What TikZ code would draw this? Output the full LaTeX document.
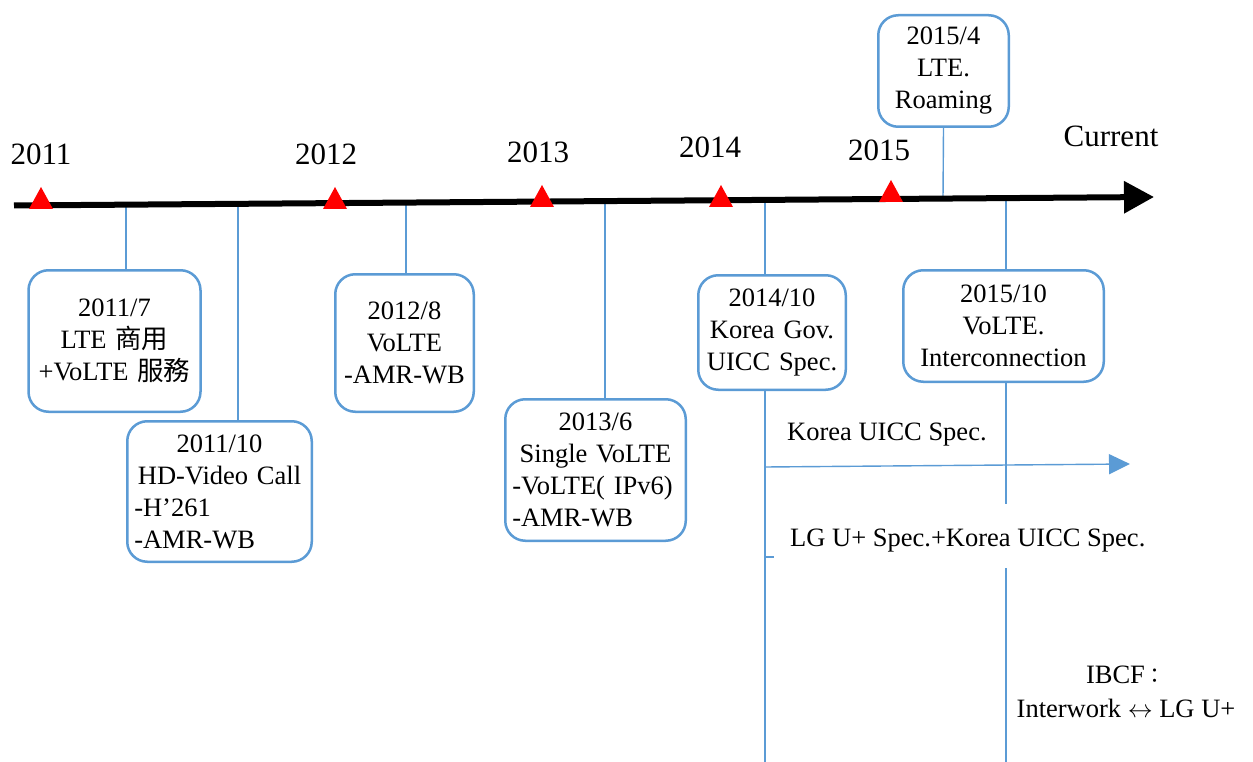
\documentclass[tikz,border=0pt]{standalone}
\usepackage{fontspec}
\setmainfont{Liberation Serif}
\newfontfamily\cjkfont{Noto Sans CJK TC}
\usetikzlibrary{arrows.meta,calc}
\definecolor{lineblue}{RGB}{91,155,213}
\definecolor{markred}{RGB}{255,0,0}

% a line pushed to the left edge of a centred box
\newcommand\flushrow[1]{#1\hfill\mbox{}}

\tikzset{
  evbox/.style={draw=lineblue, line width=2.5pt, rounded corners=20pt, fill=white,
    align=center, inner xsep=7pt, inner ysep=0pt,
    font=\fontsize{26.5}{32}\selectfont},
  stemline/.style={draw=lineblue, line width=1.4pt},
  yearlabel/.style={anchor=base, inner sep=0pt, font=\fontsize{31}{36}\selectfont},
  sidenote/.style={inner sep=0pt, font=\fontsize{26.5}{34}\selectfont},
  yearmark/.pic={\fill[markred] (-12,6.5) -- (12,6.5) -- (0,-15.5) -- cycle;}
}

\begin{document}
\begin{tikzpicture}[x=1pt,y=-1pt]
\useasboundingbox (0,0) rectangle (1253,762);

% event boxes
\node[evbox, minimum width=172pt, minimum height=141.5pt, text width=158pt] (b1) at (114.5,341)
  {2011/7\\LTE {\cjkfont 商用}\\+VoLTE {\cjkfont 服務}};
\node[evbox, minimum width=184.5pt, minimum height=140.5pt, text width=170.5pt] (b2) at (219.5,491.5)
  {2011/10\\HD-Video Call\\\flushrow{-H’261}\\\flushrow{-AMR-WB}};
\node[evbox, minimum width=138.5pt, minimum height=137.5pt, text width=124.5pt] (b3) at (404.5,343)
  {2012/8\\VoLTE\\-AMR-WB};
\node[evbox, minimum width=180.5pt, minimum height=141.5pt, text width=166.5pt] (b4) at (595.5,470)
  {2013/6\\Single VoLTE\\\flushrow{-VoLTE( IPv6)}\\\flushrow{-AMR-WB}};
\node[evbox, minimum width=147.5pt, minimum height=114.5pt, text width=133.5pt] (b5) at (772,332.5)
  {2014/10\\Korea Gov.\\UICC Spec.};
\node[evbox, minimum width=200.5pt, minimum height=111.5pt, text width=186.5pt] (b6) at (1003.5,326)
  {2015/10\\VoLTE.\\Interconnection};
\node[evbox, minimum width=130.5pt, minimum height=111.5pt, text width=116.5pt] (b7) at (943.5,71)
  {2015/4\\LTE.\\Roaming};

% points on the main time axis
\coordinate (tlstart) at (14,205.5);
\coordinate (tlend) at (1154,197);
\coordinate (p1) at (126,204.7);
\coordinate (p2) at (238,203.8);
\coordinate (p3) at (406,202.5);
\coordinate (p4) at (605,201.0);
\coordinate (p5) at (765,199.6);
\coordinate (p7) at (943,198.2);
\coordinate (p6) at (1006,197.7);

% stems from the axis to the boxes
\draw[stemline] (p1) -- (p1 |- b1.north);
\draw[stemline] (p2) -- (p2 |- b2.north);
\draw[stemline] (p3) -- (p3 |- b3.north);
\draw[stemline] (p4) -- (p4 |- b4.north);
\draw[stemline] (p5) -- (p5 |- b5.north);
\draw[stemline] (b7.south) -- (p7);
\draw[stemline] (p6) -- (p6 |- b6.north);

% spec lanes below 2014/10 and 2015/10
\coordinate (lane5end) at (765,762);
\coordinate (lane6a) at (1006,504);
\coordinate (lane6b) at (1006,568);
\coordinate (lane6end) at (1006,762);
\coordinate (arrstart) at (765,467);
\coordinate (arrend) at (1130,464);
\coordinate (tickstart) at (765,557);
\coordinate (tickend) at (774,557);
\draw[stemline] (lane5end |- b5.south) -- (lane5end);
\draw[stemline] (lane6a |- b6.south) -- (lane6a);
\draw[stemline] (lane6b) -- (lane6end);
\draw[stemline, -{Triangle[length=21pt,width=20pt]}] (arrstart) -- (arrend);
\draw[stemline] (tickstart) -- (tickend);

% main time axis
\draw[line width=6pt, -{Triangle[length=30pt,width=31pt]}] (tlstart) -- (tlend);

% year markers
\pic at (41,202.5) {yearmark};
\pic at (335,202.5) {yearmark};
\pic at (542,200.5) {yearmark};
\pic at (721,200.5) {yearmark};
\pic at (891,195.5) {yearmark};

% year labels
\node[yearlabel] (y2011) at (41,165) {2011};
\node[yearlabel] (y2012) at (326,165) {2012};
\node[yearlabel] (y2013) at (538,163) {2013};
\node[yearlabel] (y2014) at (710,158) {2014};
\node[yearlabel] (y2015) at (879,161) {2015};
\node[yearlabel] (ycur) at (1111,147) {Current};

% lane notes
\node[sidenote, anchor=base west] (n1) at (787,440) {Korea UICC Spec.};
\node[sidenote, anchor=base west] (n2) at (790,546) {LG U+ Spec.+Korea UICC Spec.};
\node[sidenote, align=center, anchor=base] (n3) at (1126,717)
  {IBCF{\cjkfont\fontsize{21}{34}\selectfont ：}\\Interwork $\leftrightarrow$ LG U+};
\end{tikzpicture}
\end{document}
